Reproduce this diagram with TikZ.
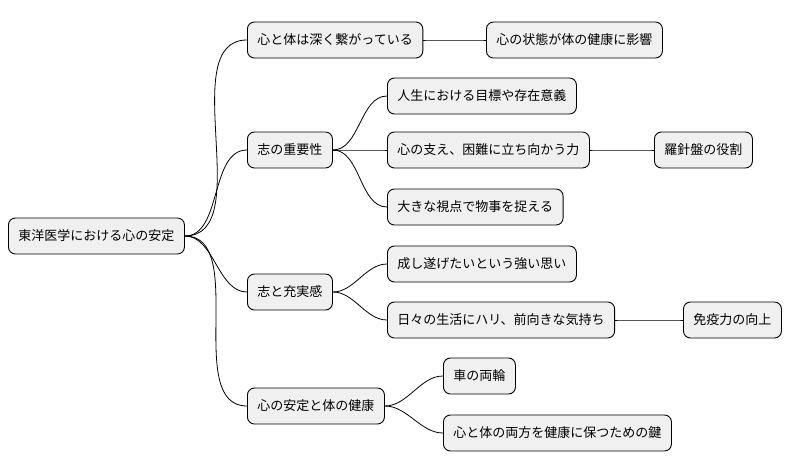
\documentclass[tikz,border=0pt]{standalone}
\usepackage{fontspec}
\setmainfont{Noto Sans CJK JP}
\usetikzlibrary{positioning}
\tikzset{
  mm/.style={draw=black, fill=black!6, rounded corners=7pt, line width=0.9pt,
    minimum height=36pt, inner xsep=10pt, anchor=west,
    font=\fontsize{13}{15}\selectfont},
  br/.style={line width=0.8pt, out=0, in=180, looseness=0.9}
}
\begin{document}
\begin{tikzpicture}[x=1pt,y=-1pt]
\useasboundingbox (0,0) rectangle (796,471);
\node[mm] (root) at (8,236) {東洋医学における心の安定};

\node[mm] (a) at (247,40) {心と体は深く繋がっている};
\node[mm] (a1) at (486,40) {心の状態が体の健康に影響};

\node[mm] (b) at (247,150) {志の重要性};
\node[mm] (b1) at (387,96) {人生における目標や存在意義};
\node[mm] (b2) at (387,150) {心の支え、困難に立ち向かう力};
\node[mm] (b21) at (654,150) {羅針盤の役割};
\node[mm] (b3) at (387,207) {大きな視点で物事を捉える};

\node[mm] (c) at (247,292) {志と充実感};
\node[mm] (c1) at (387,264) {成し遂げたいという強い思い};
\node[mm] (c2) at (387,320) {日々の生活にハリ、前向きな気持ち};
\node[mm] (c21) at (683,320) {免疫力の向上};

\node[mm] (d) at (247,406) {心の安定と体の健康};
\node[mm] (d1) at (443,376) {車の両輪};
\node[mm] (d2) at (443,433) {心と体の両方を健康に保つための鍵};

% branches
\foreach \p/\c in {root/a,root/b,root/c,root/d,a/a1,b/b1,b/b2,b/b3,b2/b21,c/c1,c/c2,c2/c21,d/d1,d/d2}
  \draw[br] (\p.east) to (\c.west);
\end{tikzpicture}
\end{document}
